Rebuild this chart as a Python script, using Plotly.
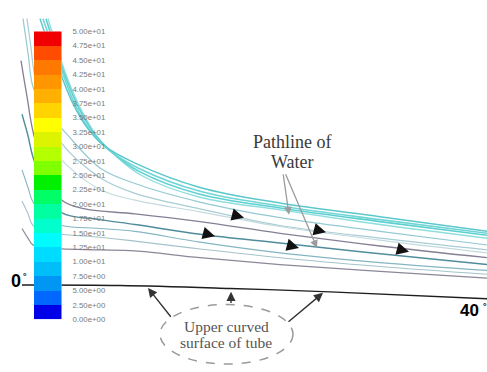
import plotly.graph_objects as go

# ---------------- data ----------------
# contour legend (velocity bands), 0 .. 50 in steps of 2.5
band_edges = [i * 2.5 for i in range(21)]
band_colors = ["#0000e8", "#0068ff", "#0096f4", "#00bef8", "#00dcff",
               "#00fcff", "#00ffcc", "#00ffa0", "#00ff66", "#00f000",
               "#80ff00", "#b4ff00", "#dcf400", "#ffff00", "#ffd400",
               "#ffb000", "#ff9600", "#ff7800", "#ff4c00", "#f00000"]
band_labels = ["0.00e+00", "2.50e+00", "5.00e+00", "7.50e+00", "1.00e+01",
               "1.25e+01", "1.50e+01", "1.75e+01", "2.00e+01", "2.25e+01",
               "2.50e+01", "2.75e+01", "3.00e+01", "3.25e+01", "3.50e+01",
               "3.75e+01", "4.00e+01", "4.25e+01", "4.50e+01", "4.75e+01",
               "5.00e+01"]

# pathlines (image coordinates, px)
b1_x = [40, 50, 60, 72, 88, 105, 135, 200, 280, 380, 487]
b1_y = [15, 45, 70, 100, 128, 146, 163, 188, 204, 218, 233]
b2_x = [43, 53, 63, 75, 91, 108, 138, 200, 280, 380, 487]
b2_y = [15, 45, 72, 103, 131, 149, 168, 192, 207, 221, 235]
b3_x = [46, 56, 66, 79, 95, 112, 140, 200, 280, 380, 487]
b3_y = [15, 47, 76, 107, 134, 152, 172, 195, 209, 223, 237]
b4_x = [48, 58, 68, 82, 98, 115, 142, 200, 280, 380, 487]
b4_y = [15, 48, 78, 110, 137, 155, 176, 198, 211, 226, 240]

pa_x = [23, 28, 33, 45, 62, 100, 135, 200, 280, 380, 487]
pa_y = [15, 50, 85, 110, 128, 168, 184, 203, 219, 233, 247]
pb_x = [27, 31, 35, 48, 62, 100, 135, 200, 280, 380, 487]
pb_y = [15, 45, 75, 115, 143, 178, 194, 210, 227, 240, 252]
pc_x = [50, 62, 100, 135, 200, 280, 380, 487]
pc_y = [140, 160, 190, 201, 213, 228, 242, 255]

p1_x = [21, 27, 34, 48, 62, 85, 135, 200, 280, 380, 487]
p1_y = [58, 95, 135, 175, 201, 210, 215, 223, 235, 248, 260]
t_x = [22, 28, 33, 48, 62, 100, 135, 200, 280, 380, 487]
t_y = [113, 135, 157, 195, 214, 221, 226, 236, 245, 256, 267]
p4_x = [22, 28, 33, 48, 62, 100, 135, 200, 280, 380, 487]
p4_y = [170, 188, 203, 220, 227, 230, 233, 244, 255, 265, 273]
p5_x = [22, 28, 33, 48, 62, 100, 135, 200, 280, 380, 487]
p5_y = [202, 215, 227, 233, 236, 239, 243, 251, 260, 269, 277]
p2_x = [22, 28, 33, 48, 62, 100, 135, 200, 280, 380, 487]
p2_y = [230, 240, 247, 250, 251, 252, 253, 260, 267, 274, 281]

surface_x = [22, 120, 230, 330, 487]
surface_y = [288, 288.5, 291.5, 295, 302]

flow_arrow_x = [244, 215, 299, 326, 409]
flow_arrow_y = [219, 238, 250, 234, 254]

# ---------------- figure ----------------
fig = go.Figure()

lines = [
    (pa_x, pa_y, "#94c9d2", 1.2), (pb_x, pb_y, "#a8cdd4", 1.2), (pc_x, pc_y, "#c4dade", 1.1),
    (p4_x, p4_y, "#84b5c2", 1.1), (p5_x, p5_y, "#a5c3ca", 1.1), (p2_x, p2_y, "#8d8798", 1.2),
    (p1_x, p1_y, "#857f94", 1.3), (t_x, t_y, "#4f8c9c", 1.4),
    (b4_x, b4_y, "#8fdede", 1.4), (b3_x, b3_y, "#5fd0d2", 1.6),
    (b2_x, b2_y, "#70d6d6", 1.6), (b1_x, b1_y, "#5cc8cc", 1.5),
]
for lx, ly, c, w in lines:
    fig.add_trace(go.Scatter(x=lx, y=ly, mode="lines",
                             line=dict(color=c, width=w, shape="spline", smoothing=1.0),
                             hoverinfo="skip", showlegend=False, xaxis="x", yaxis="y"))

fig.add_trace(go.Scatter(x=surface_x, y=surface_y, mode="lines",
                         line=dict(color="#1e1e1e", width=1.4, shape="spline"),
                         hoverinfo="skip", showlegend=False, xaxis="x", yaxis="y"))

# colour legend bar
n = len(band_colors)
cscale = []
for i, c in enumerate(band_colors):
    cscale.append([i / n, c])
    cscale.append([(i + 1) / n, c])
fig.add_trace(go.Heatmap(
    z=[[i + 0.5] for i in range(n)],
    y=[band_edges[i] + 1.25 for i in range(n)],
    x=[0], zmin=0, zmax=n, colorscale=cscale, showscale=False,
    hoverinfo="skip", xaxis="x2", yaxis="y2"))

ann = []
# flow direction arrows
for hx, hy in zip(flow_arrow_x, flow_arrow_y):
    ann.append(dict(x=hx, y=hy, ax=hx - 11, ay=hy - 3, xref="x", yref="y",
                    axref="x", ayref="y", text="", showarrow=True,
                    arrowhead=2, arrowsize=1.9, arrowwidth=1.3, arrowcolor="#111"))
# pointer arrows from the label
for hx, hy, tx in [(289, 216, 283), (317, 250, 285)]:
    ann.append(dict(x=hx, y=hy, ax=tx, ay=173, xref="x", yref="y",
                    axref="x", ayref="y", text="", showarrow=True,
                    arrowhead=2, arrowsize=1.2, arrowwidth=1.3, arrowcolor="#9c9c9c"))
# surface arrows
for hx, hy, tx, ty in [(148, 291, 172, 322), (231, 295, 231, 308), (323, 296, 287, 327)]:
    ann.append(dict(x=hx, y=hy, ax=tx, ay=ty, xref="x", yref="y",
                    axref="x", ayref="y", text="", showarrow=True,
                    arrowhead=2, arrowsize=1.3, arrowwidth=1.4, arrowcolor="#333"))

serif = "Liberation Serif"
for txt, yy, sz, col in [("Pathline of", 141, 18, "#3a3a3a"), ("Water", 162, 18, "#3a3a3a")]:
    ann.append(dict(x=292, y=yy, xref="x", yref="y", text=txt, showarrow=False,
                    font=dict(family=serif, size=sz, color=col)))
for txt, yy in [("Upper curved", 330), ("surface of tube", 347)]:
    ann.append(dict(x=226, y=yy, xref="x", yref="y", text=txt, showarrow=False,
                    font=dict(family=serif, size=15.5, color="#555")))
ann.append(dict(x=9, y=284, xref="x", yref="y", xanchor="left", text="<b>0</b>",
                showarrow=False, font=dict(family="Liberation Sans", size=18, color="#000")))
ann.append(dict(x=21, y=279, xref="x", yref="y", xanchor="left", text="<b>°</b>",
                showarrow=False, font=dict(family="Liberation Sans", size=9, color="#000")))
ann.append(dict(x=458, y=314, xref="x", yref="y", xanchor="left", text="<b>40</b>",
                showarrow=False, font=dict(family="Liberation Sans", size=17, color="#000")))
ann.append(dict(x=481, y=309, xref="x", yref="y", xanchor="left", text="<b>°</b>",
                showarrow=False, font=dict(family="Liberation Sans", size=9, color="#000")))

W, H = 487, 372
fig.update_layout(
    width=W, height=H, margin=dict(l=0, r=0, t=0, b=0),
    paper_bgcolor="white", plot_bgcolor="white",
    xaxis=dict(range=[0, W], visible=False, domain=[0, 1]),
    yaxis=dict(range=[H, 0], visible=False, domain=[0, 1]),
    xaxis2=dict(range=[-0.5, 0.5], visible=False, domain=[34 / W, 61.5 / W], anchor="y2"),
    yaxis2=dict(range=[0, 50], domain=[1 - 323 / H, 1 - 28 / H], anchor="x2",
                side="right", tickvals=band_edges, ticktext=band_labels,
                ticks="", showgrid=False, zeroline=False, showline=False,
                ticklabelstandoff=10,
                tickfont=dict(family="Liberation Sans", size=7.8, color="#7a7a7a")),
    shapes=[dict(type="circle", xref="x", yref="y", x0=160, x1=293, y0=308, y1=369,
                 line=dict(color="#9a9a9a", width=1.5, dash="dash"))],
    annotations=ann,
)

fig.write_html("out.html")
